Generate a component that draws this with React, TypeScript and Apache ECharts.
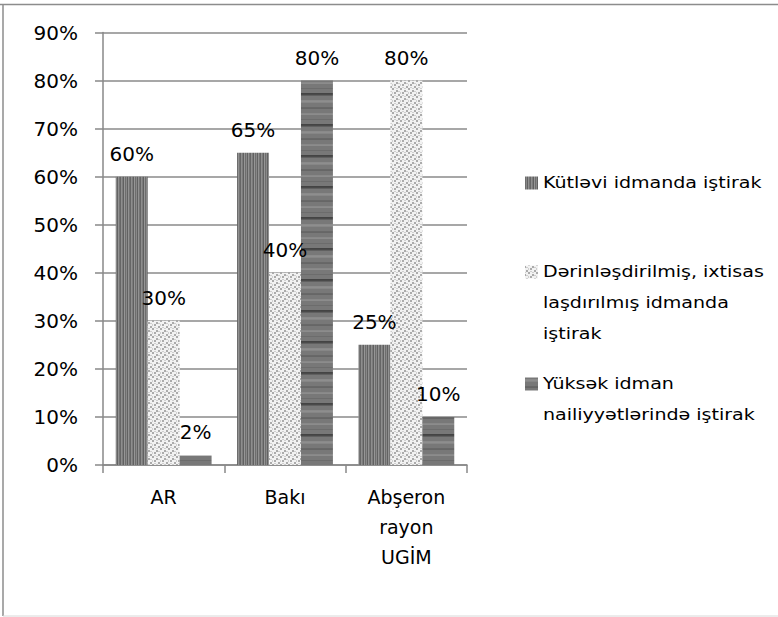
import React, { useEffect, useRef } from "react";
import * as echarts from "echarts";

const categories = ["AR", "Bakı", "Abşeron\nrayon\nUGİM"];
const seriesNames = [
  "Kütləvi idmanda iştirak",
  "Dərinləşdirilmiş, ixtisaslaşdırılmış idmanda iştirak",
  "Yüksək idman nailiyyətlərində iştirak",
];
const legendLines = [
  "Kütləvi idmanda iştirak",
  "Dərinləşdirilmiş, ixtisas\nlaşdırılmış idmanda\niştirak",
  "Yüksək idman\nnailiyyətlərində iştirak",
];
const massValues = [60, 65, 25];
const specialValues = [30, 40, 80];
const eliteValues = [2, 80, 10];
const yMax = 90;
const yInterval = 10;

const FONT = "DejaVu Sans";

function makeTile(w: number, h: number, draw: (ctx: CanvasRenderingContext2D) => void) {
  const c = document.createElement("canvas");
  c.width = w;
  c.height = h;
  const ctx = c.getContext("2d")!;
  draw(ctx);
  return { image: c, repeat: "repeat", imageWidth: w, imageHeight: h } as any;
}

function verticalStripes() {
  const cols = ["#666666", "#8e8e8e", "#7c7c7c", "#606060", "#969696", "#6e6e6e", "#888888", "#626262", "#929292", "#757575"];
  return makeTile(cols.length, 4, (ctx) => {
    cols.forEach((c, i) => {
      ctx.fillStyle = c;
      ctx.fillRect(i, 0, 1, 4);
    });
  });
}

function checker() {
  return makeTile(8, 8, (ctx) => {
    ctx.fillStyle = "#f2f2f2";
    ctx.fillRect(0, 0, 8, 8);
    ctx.fillStyle = "#ababab";
    ctx.fillRect(0, 0, 2, 2);
    ctx.fillRect(4, 2, 2, 2);
    ctx.fillRect(2, 4, 2, 2);
    ctx.fillRect(6, 6, 2, 2);
    ctx.fillStyle = "#cfcfcf";
    ctx.fillRect(4, 0, 2, 1);
    ctx.fillRect(0, 4, 1, 2);
    ctx.fillRect(6, 3, 2, 1);
    ctx.fillRect(2, 7, 2, 1);
  });
}

function horizontalStripes() {
  const rows: string[] = [];
  for (let i = 0; i < 31; i++) rows.push("#787878");
  rows[0] = "#444444";
  rows[1] = "#4a4a4a";
  rows[2] = "#606060";
  rows[7] = "#8a8a8a";
  rows[8] = "#8e8e8e";
  rows[9] = "#868686";
  rows[14] = "#686868";
  rows[15] = "#666666";
  rows[20] = "#888888";
  rows[21] = "#8c8c8c";
  rows[26] = "#6c6c6c";
  return makeTile(4, rows.length, (ctx) => {
    rows.forEach((c, i) => {
      ctx.fillStyle = c;
      ctx.fillRect(0, i, 4, 1);
    });
  });
}

export default function App() {
  const ref = useRef<HTMLDivElement>(null);
  useEffect(() => {
    if (!ref.current) return;
    const chart = echarts.init(ref.current, undefined, { renderer: "svg" });
    const fills = [verticalStripes(), checker(), horizontalStripes()];
    const valuesList = [massValues, specialValues, eliteValues];
    const labelStyle = {
      show: true,
      position: "top",
      distance: 13,
      fontFamily: FONT,
      fontSize: 20,
      color: "#000",
      formatter: (p: any) => Math.round(p.value) + "%",
    };
    const LH = 31;
    const legendCenters = [183, 272, 384];
    const graphics: any[] = [
      { type: "line", shape: { x1: 0, y1: 4.5, x2: 778, y2: 4.5 }, style: { stroke: "#8c8c8c", lineWidth: 1.5 } },
      { type: "line", shape: { x1: 3, y1: 4, x2: 3, y2: 616 }, style: { stroke: "#8c8c8c", lineWidth: 1.5 } },
      { type: "line", shape: { x1: 3, y1: 616, x2: 778, y2: 616 }, style: { stroke: "#d8d8d8", lineWidth: 1 } },
    ];
    legendLines.forEach((t, i) => {
      graphics.push({
        type: "rect",
        shape: { x: 525, y: legendCenters[i] - 6.5, width: 13, height: 13 },
        style: { fill: fills[i] },
      });
      graphics.push({
        type: "text",
        x: 543,
        y: legendCenters[i] - LH / 2,
        scaleX: 1.19,
        style: {
          text: t,
          fontFamily: FONT,
          fontSize: 16,
          lineHeight: LH,
          fill: "#000",
          verticalAlign: "top",
        },
      });
    });
    chart.setOption({
      animation: false,
      backgroundColor: "#fff",
      grid: { left: 103, top: 32.5, right: 311, bottom: 152, containLabel: false },
      xAxis: {
        type: "category",
        data: categories,
        axisLine: { show: true, lineStyle: { color: "#888", width: 1.5 } },
        axisTick: { show: true, length: 8, inside: false, lineStyle: { color: "#888", width: 1.5 } },
        axisLabel: { fontFamily: FONT, fontSize: 19, color: "#000", lineHeight: 30, margin: 17, interval: 0 },
        splitLine: { show: false },
      },
      yAxis: {
        type: "value",
        min: 0,
        max: yMax,
        interval: yInterval,
        axisLine: { show: true, lineStyle: { color: "#888", width: 1.5 } },
        axisTick: { show: true, length: 8, inside: false, lineStyle: { color: "#888", width: 1.5 } },
        axisLabel: { fontFamily: FONT, fontSize: 20, color: "#000", margin: 25, formatter: "{value}%" },
        splitLine: { show: true, lineStyle: { color: "#8a8a8a", width: 1.5 } },
      },
      series: seriesNames.map((name, i) => ({
        name,
        type: "bar",
        data: valuesList[i],
        barGap: "0%",
        barCategoryGap: "21%",
        itemStyle: { color: fills[i] },
        label: labelStyle,
      })),
      graphic: graphics,
    });
    return () => chart.dispose();
  }, []);
  return (
    <div
      ref={ref}
      style={{ position: "absolute", left: 0, top: 0, width: 778, height: 617, background: "#fff" }}
    />
  );
}
